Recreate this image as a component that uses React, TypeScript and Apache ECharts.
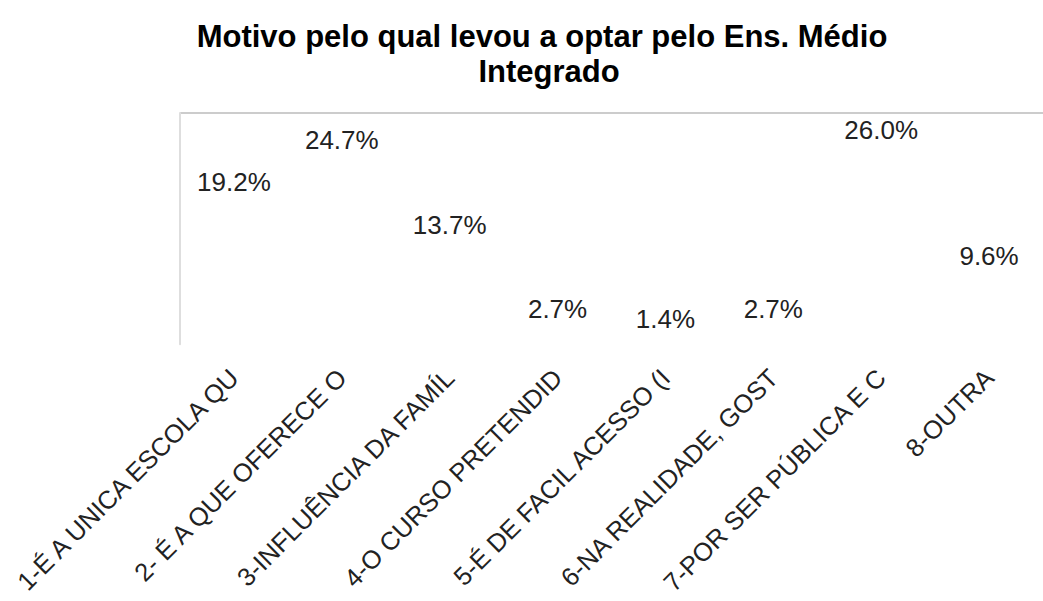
import React, { useEffect, useRef } from "react";
import * as echarts from "echarts";

const titleLines = ["Motivo pelo qual levou a optar pelo Ens. Médio", "Integrado"];
const categories = [
  "1-É A UNICA ESCOLA QU",
  "2- É A QUE OFERECE O",
  "3-INFLUÊNCIA DA FAMÍL",
  "4-O CURSO PRETENDID",
  "5-É DE FACIL ACESSO (I",
  "6-NA REALIDADE, GOST",
  "7-POR SER PÚBLICA E C",
  "8-OUTRA",
];
const values = [19.2, 24.7, 13.7, 2.7, 1.4, 2.7, 26.0, 9.6];
const axisMax = 30;

export default function App() {
  const ref = useRef<HTMLDivElement>(null);
  useEffect(() => {
    if (!ref.current) return;
    const chart = echarts.init(ref.current, null, { renderer: "svg" });
    const font = "Arial, 'Liberation Sans', sans-serif";
    chart.setOption({
      animation: false,
      backgroundColor: "#ffffff",
      graphic: [
        {
          type: "text",
          x: 542,
          y: 36,
          style: {
            text: titleLines[0],
            font: `bold 31px ${font}`,
            fill: "#000",
            textAlign: "center",
            textVerticalAlign: "middle",
          },
        },
        {
          type: "text",
          x: 549,
          y: 71,
          style: {
            text: titleLines[1],
            font: `bold 31px ${font}`,
            fill: "#000",
            textAlign: "center",
            textVerticalAlign: "middle",
          },
        },
      ],
      grid: { left: 180, top: 113, width: 880, height: 233 },
      xAxis: {
        type: "category",
        data: categories,
        axisLine: { show: false },
        axisTick: { show: false },
        axisLabel: {
          interval: 0,
          rotate: 45,
          margin: 29,
          fontSize: 25.5,
          fontFamily: font,
          color: "#222",
        },
      },
      yAxis: {
        type: "value",
        min: 0,
        max: axisMax,
        interval: axisMax,
        axisLabel: { show: false },
        axisTick: { show: false },
        axisLine: { show: true, lineStyle: { color: "#dedede", width: 2 } },
        splitLine: {
          show: true,
          lineStyle: { color: ["rgba(0,0,0,0)", "#cccccc"], width: 2 },
        },
      },
      series: [
        {
          type: "bar",
          data: values,
          barWidth: "60%",
          itemStyle: { color: "rgba(255,255,255,0)" },
          label: {
            show: true,
            position: "top",
            distance: 1,
            fontSize: 26,
            fontFamily: font,
            color: "#222",
            formatter: (p: any) => Number(p.value).toFixed(1) + "%",
          },
        },
      ],
    });
    return () => chart.dispose();
  }, []);
  return (
    <div
      ref={ref}
      style={{ position: "fixed", left: 0, top: 0, width: 1043, height: 601 }}
    />
  );
}
